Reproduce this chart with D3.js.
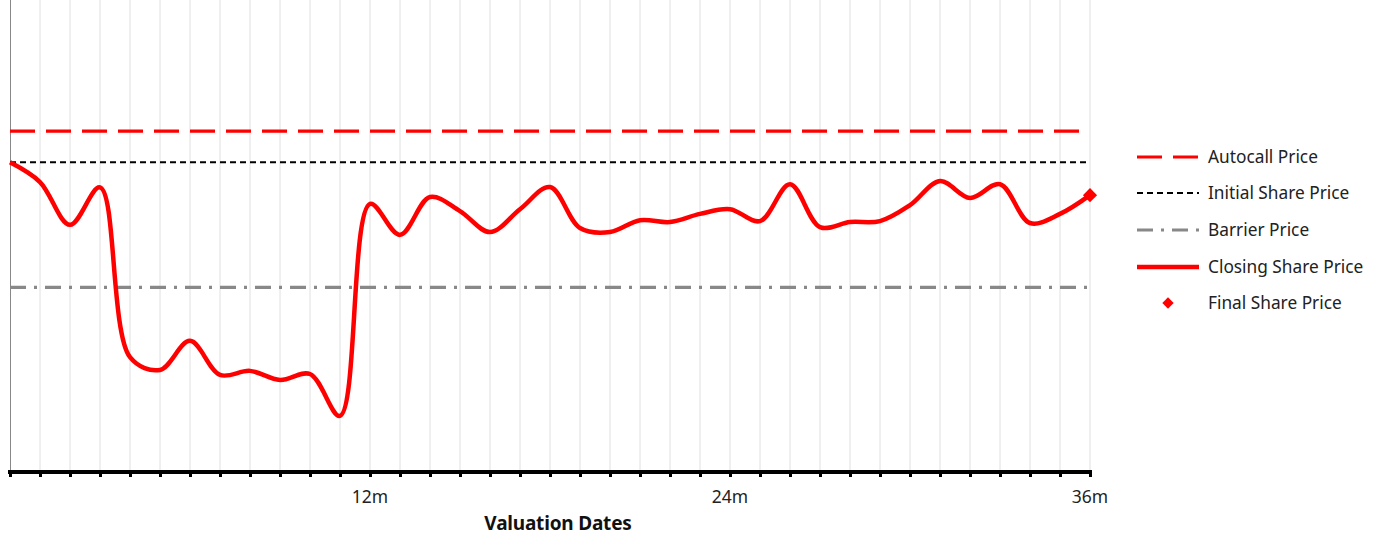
<!DOCTYPE html>
<html><head><meta charset="utf-8">
<script src="https://cdn.jsdelivr.net/npm/d3@7"></script>
<style>body{margin:0;background:#fff}svg{display:block;font-family:"Noto Sans",sans-serif}</style>
</head><body><svg id="c" width="1382" height="535"></svg>
<script>
const months = d3.range(0, 37);
const closing = [100, 93.7, 80, 92, 37.7, 33.6, 42.9, 32, 33.3, 30.4, 32.3, 18.9, 86.7, 76.8, 88.9, 84.4, 77.7, 85, 92.1, 79, 77.7, 81.5, 80.9, 83.5, 85, 81.2, 93, 79.3, 80.9, 81.2, 86.3, 94, 88.6, 93, 80.6, 83.5, 89.5];
const autocallPrice = 110;
const initialPrice = 100;
const barrierPrice = 60;
const tickLabels = ["12m", "24m", "36m"];
const tickMonths = [12, 24, 36];
const legendLabels = ["Autocall Price", "Initial Share Price", "Barrier Price", "Closing Share Price", "Final Share Price"];

const svg = d3.select("#c");
const x = d3.scaleLinear().domain([0, 36]).range([10, 1090]);
const y = d3.scaleLinear().domain([0, 150]).range([475, 6]);

// gridlines
svg.append("g").selectAll("line").data(months.slice(1)).join("line")
  .attr("x1", d => x(d)).attr("x2", d => x(d)).attr("y1", 0).attr("y2", 471)
  .attr("stroke", "#e0e0e0").attr("stroke-width", 1);
// left axis
svg.append("line").attr("x1", 10.5).attr("x2", 10.5).attr("y1", 0).attr("y2", 472).attr("stroke", "#888").attr("stroke-width", 1);

const styles = [
  {stroke: "#ff0000", w: 3.2, dash: "25,11"},
  {stroke: "#000", w: 2, dash: "6,4"},
  {stroke: "#888", w: 3.2, dash: "16,8,3,8"},
  {stroke: "#ff0000", w: 4.5, dash: null}
];
const hvals = [autocallPrice, initialPrice, barrierPrice];
hvals.forEach((v, i) => {
  svg.append("line").attr("x1", x(0)).attr("x2", x(36)).attr("y1", y(v)).attr("y2", y(v))
    .attr("stroke", styles[i].stroke).attr("stroke-width", styles[i].w).attr("stroke-dasharray", styles[i].dash);
});

// x axis
const axis = svg.append("g").attr("transform", "translate(0,472)")
  .call(d3.axisBottom(x).tickValues(months).tickSize(5).tickFormat(""));
axis.select(".domain").attr("stroke", "#000").attr("stroke-width", 4).attr("d", "M8,0H1092");
axis.selectAll(".tick line").attr("stroke", "#000").attr("stroke-width", 3);
svg.append("g").selectAll("text").data(tickMonths).join("text")
  .attr("x", d => x(d)).attr("y", 503).attr("text-anchor", "middle")
  .attr("font-size", 17.5).attr("fill", "#222").text((d, i) => tickLabels[i]);
svg.append("text").attr("x", 558).attr("y", 530).attr("text-anchor", "middle")
  .attr("font-size", 19).attr("font-weight", "bold").attr("fill", "#111").attr("letter-spacing", -0.2).text("Valuation Dates");

// closing line
const line = d3.line().x((d, i) => x(months[i])).y(d => y(d)).curve(d3.curveCatmullRom.alpha(0.5));
svg.append("path").datum(closing).attr("d", line).attr("fill", "none")
  .attr("stroke", "#ff0000").attr("stroke-width", 4.5).attr("stroke-linejoin", "round");
svg.append("rect").attr("x", -5).attr("y", -5).attr("width", 10).attr("height", 10)
  .attr("transform", `translate(${x(36)},${y(closing[36])}) rotate(45)`).attr("fill", "#ff0000");

// legend
const lg = svg.append("g");
const ly = [157, 193, 230, 267, 303];
legendLabels.forEach((t, i) => {
  if (i < 4) {
    lg.append("line").attr("x1", 1137).attr("x2", 1199).attr("y1", ly[i]).attr("y2", ly[i])
      .attr("stroke", styles[i].stroke).attr("stroke-width", styles[i].w).attr("stroke-dasharray", styles[i].dash);
  } else {
    lg.append("rect").attr("x", -4).attr("y", -4).attr("width", 8).attr("height", 8)
      .attr("transform", `translate(1168,${ly[i]}) rotate(45)`).attr("fill", "#ff0000");
  }
  lg.append("text").attr("x", 1208).attr("y", ly[i] + 6).attr("font-size", 17.3).attr("fill", "#222").text(t);
});
</script></body></html>
